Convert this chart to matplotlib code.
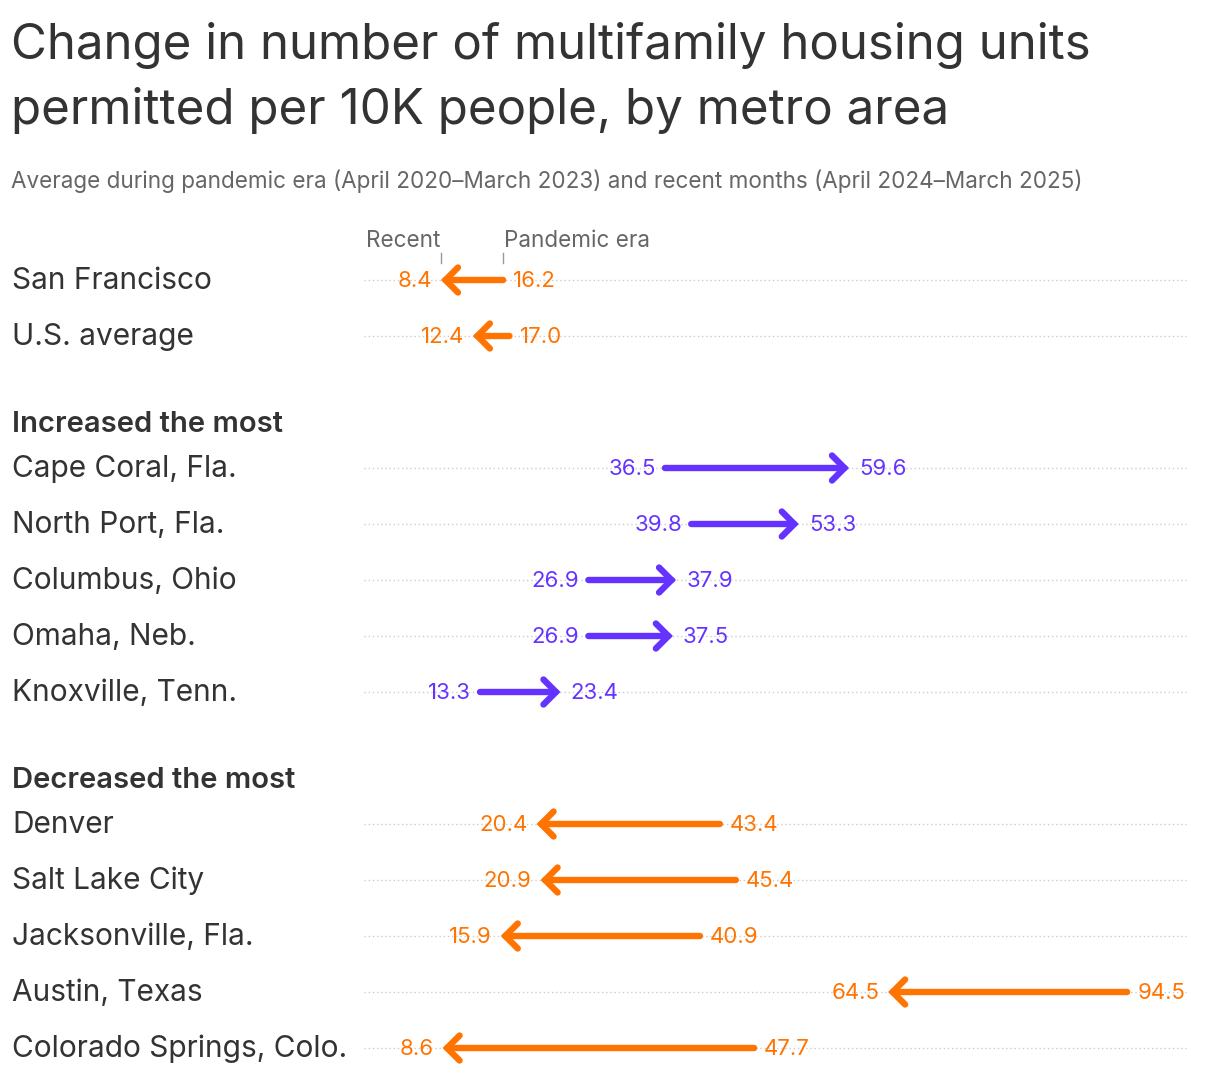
import matplotlib.pyplot as plt

plt.rcParams['font.family'] = ['Inter', 'DejaVu Sans']

names = ['San Francisco', 'U.S. average',
         'Cape Coral, Fla.', 'North Port, Fla.', 'Columbus, Ohio', 'Omaha, Neb.', 'Knoxville, Tenn.',
         'Denver', 'Salt Lake City', 'Jacksonville, Fla.', 'Austin, Texas', 'Colorado Springs, Colo.']
pandemic = [16.2, 17.0, 36.5, 39.8, 26.9, 26.9, 13.3, 43.4, 45.4, 40.9, 94.5, 47.7]
recent = [8.4, 12.4, 59.6, 53.3, 37.9, 37.5, 23.4, 20.4, 20.9, 15.9, 64.5, 8.6]
groups = [0, 0, 1, 1, 1, 1, 1, 2, 2, 2, 2, 2]
group_titles = {1: 'Increased the most', 2: 'Decreased the most'}

title = 'Change in number of multifamily housing units\npermitted per 10K people, by metro area'
subtitle = 'Average during pandemic era (April 2020\u2013March 2023) and recent months (April 2024\u2013March 2025)'

ORANGE = '#ff7300'
PURPLE = '#6533ff'
DARK = '#333333'
GREY = '#666666'

W, H = 1220, 1080
fig = plt.figure(figsize=(W / 100, H / 100), dpi=100, facecolor='white')
ax = fig.add_axes([0, 0, 1, 1])
# x: data units, 0 at px 374, ~7.97 px per unit ; y: pixel rows from top
px_per = 7.97
x0_px = 374
ax.set_xlim(-x0_px / px_per, (W - x0_px) / px_per)
ax.set_ylim(H, 0)
ax.axis('off')

def px2x(p):
    return (p - x0_px) / px_per

# row layout
ys = []
headers = []
y = 280
prev = groups[0]
for i, g in enumerate(groups):
    if i > 0:
        if g != prev:
            y += 88
            headers.append((g, y))
            y += 44
        else:
            y += 56
    ys.append(y)
    prev = g

fig.text(11 / W, 1 - 22 / H, title, ha='left', va='top', fontsize=35.5, color=DARK,
         linespacing=1.5)
fig.text(11 / W, 1 - 181 / H, subtitle, ha='left', va='center', fontsize=16.2, color=GREY)

for g, hy in headers:
    ax.text(12 / W, hy + 1, group_titles[g], transform=ax.get_yaxis_transform(),
            ha='left', va='center', fontsize=21, fontweight='semibold', color=DARK)

for name, p, r, yy in zip(names, pandemic, recent, ys):
    c = PURPLE if r > p else ORANGE
    ax.plot([px2x(364), px2x(1186)], [yy, yy], color='#cccccc', lw=1,
            linestyle=(0, (1, 2)), zorder=1)
    ax.text(12 / W, yy + 1, name, transform=ax.get_yaxis_transform(),
            ha='left', va='center', fontsize=21.5, color=DARK)
    ax.annotate('', xy=(r, yy), xytext=(p, yy),
                arrowprops=dict(arrowstyle='->,head_length=0.45,head_width=0.45',
                                lw=4.6, color=c, shrinkA=0, shrinkB=0,
                                mutation_scale=20, capstyle='round', joinstyle='miter'),
                zorder=3)
    lo, hi = min(p, r), max(p, r)
    ax.annotate(f'{lo:.1f}', xy=(lo, yy + 1), xytext=(-9, 0), textcoords='offset pixels',
                ha='right', va='center', fontsize=16, color=c)
    ax.annotate(f'{hi:.1f}', xy=(hi, yy + 1), xytext=(10, 0), textcoords='offset pixels',
                ha='left', va='center', fontsize=16, color=c)

# "Recent" / "Pandemic era" key above first row
ax.annotate('Recent', xy=(recent[0], 241), xytext=(-1, 0), textcoords='offset pixels',
            ha='right', va='center', fontsize=16.2, color=GREY)
ax.annotate('Pandemic era', xy=(pandemic[0], 241), xytext=(1, 0), textcoords='offset pixels',
            ha='left', va='center', fontsize=16.2, color=GREY)
for v in (recent[0], pandemic[0]):
    ax.plot([v, v], [253, 263], color='#999999', lw=1)

fig.savefig('out.png', dpi=100, facecolor='white')
